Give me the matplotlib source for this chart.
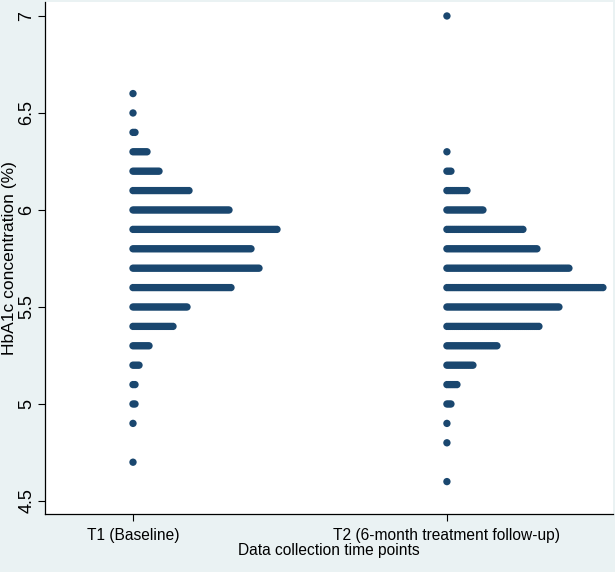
import numpy as np
import matplotlib
matplotlib.use("Agg")
import matplotlib.pyplot as plt
from matplotlib import font_manager

# ---- data ----
categories = ["T1 (Baseline)", "T2 (6-month treatment follow-up)"]

t1_values = [6.6, 6.5, 6.4, 6.3, 6.2, 6.1, 6.0, 5.9, 5.8, 5.7, 5.6, 5.5, 5.4, 5.3, 5.2, 5.1, 5.0, 4.9, 4.7]
t1_counts = [1,   1,   2,   8,   14,  29,  49,  73,  60,  64,  50,  28,  21,  9,   4,   2,   2,   1,   1]

t2_values = [7.0, 6.3, 6.2, 6.1, 6.0, 5.9, 5.8, 5.7, 5.6, 5.5, 5.4, 5.3, 5.2, 5.1, 5.0, 4.9, 4.8, 4.6]
t2_counts = [1,   1,   3,   11,  19,  39,  46,  62,  79,  57,  47,  26,  14,  6,   3,   1,   1,   1]

y_ticks = [4.5, 5, 5.5, 6, 6.5, 7]
y_tick_labels = ["4.5", "5", "5.5", "6", "6.5", "7"]

# ---- style ----
BG = "#EAF2F3"
NAVY = "#1A476F"
FONT = ["Liberation Sans", "DejaVu Sans"]
plt.rcParams["font.family"] = FONT

installed = {f.name for f in font_manager.fontManager.ttflist}
if "Liberation Sans Narrow" in installed:
    XFONT = ["Liberation Sans Narrow", "DejaVu Sans"]
    XSIZE = 13.7
else:
    XFONT = FONT
    XSIZE = 11.2

fig = plt.figure(figsize=(6.15, 5.72), dpi=100, facecolor=BG)
W, H = 615, 572
ax = fig.add_axes([45 / W, 1 - 514 / H, (613 - 45) / W, (514 - 2) / H])
ax.set_facecolor("white")

step = 0.00637  # horizontal spacing between stacked dots (data units)
series = [(t1_values, t1_counts), (t2_values, t2_counts)]
for ci, (vals, cnts) in enumerate(series):
    xpos = ci + 1
    xs, ys = [], []
    for v, n in zip(vals, cnts):
        xs.extend(xpos + np.arange(n) * step)
        ys.extend([v] * n)
    ax.scatter(xs, ys, s=28, color=NAVY, edgecolors="none", zorder=3)

ax.set_xlim(0.7197, 2.529)
ax.set_ylim(4.433, 7.072)

ax.set_xticks([1, 2])
ax.set_xticklabels(categories, fontsize=XSIZE, family=XFONT)
ax.set_yticks(y_ticks)
ax.set_yticklabels(y_tick_labels, fontsize=13, rotation=90, va="center")

for side in ["top", "right"]:
    ax.spines[side].set_visible(False)
for side in ["left", "bottom"]:
    ax.spines[side].set_color("black")
    ax.spines[side].set_linewidth(0.9)
ax.tick_params(axis="x", direction="out", length=5, width=0.8, color="black", pad=5)
ax.tick_params(axis="y", direction="out", length=5, width=0.8, color="black", pad=2)

ax.set_ylabel("HbA1c concentration (%)", fontsize=12.5)
ax.yaxis.set_label_coords(-0.049, 0.5)
ax.set_xlabel("Data collection time points", fontsize=XSIZE, family=XFONT)
ax.xaxis.set_label_coords(0.5, -0.056)

fig.savefig("out.png", dpi=100, facecolor=BG)
